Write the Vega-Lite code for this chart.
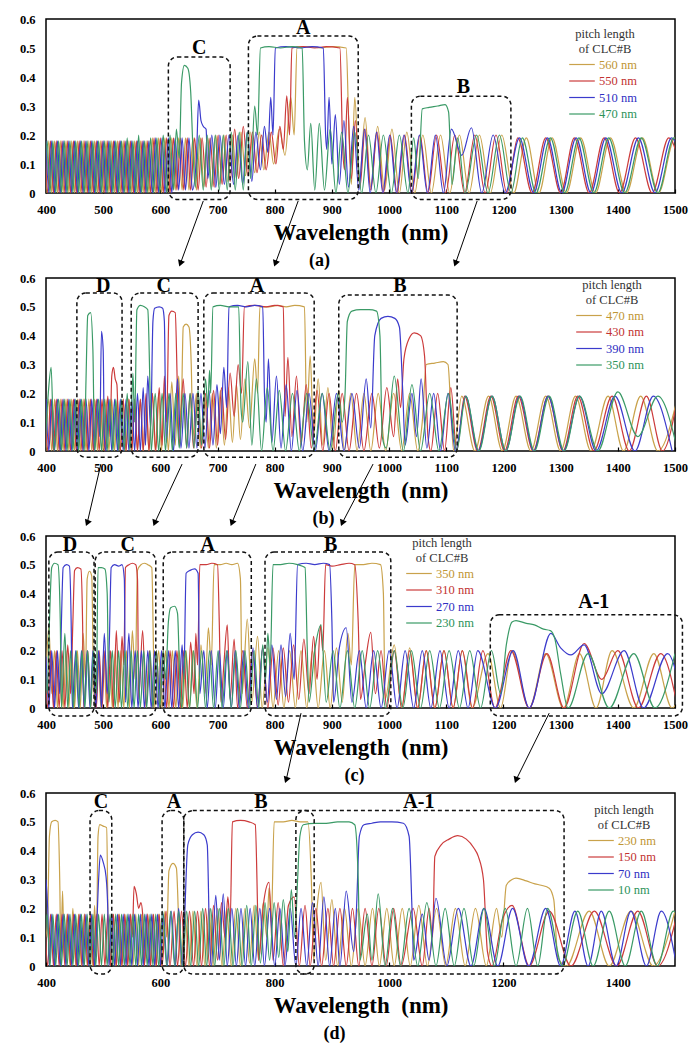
{
"$schema":"https://vega.github.io/schema/vega-lite/v6.json",
"background":"white",
"padding":{"left":18,"top":12,"right":0,"bottom":0},
"bounds":"flush",
"spacing":85,
"resolve":{"scale":{"color":"independent"},"legend":{"color":"independent"}},
"config":{
"font":"Liberation Serif",
"view":{"stroke":"black","strokeWidth":1.5},
"axis":{"grid":false,"domain":false,"labelFont":"Liberation Serif","labelFontSize":12.5,"labelFontWeight":"bold","labelColor":"black","tickColor":"black","labelFlush":false,"titleFont":"Liberation Serif","titleFontSize":23,"titleFontWeight":"bold","titleColor":"black"},
"axisX":{"tickSize":-4,"tickWidth":1.2,"labelPadding":14,"titlePadding":6},
"axisY":{"ticks":false,"labelPadding":11},
"line":{"strokeWidth":1.2,"interpolate":"monotone"},
"title":{"orient":"bottom","anchor":"middle","frame":"group","font":"Liberation Serif","fontSize":18,"fontWeight":"bold","color":"black","offset":7},
"legend":{"symbolSize":256,"symbolStrokeWidth":1.5,"labelFont":"Liberation Serif","labelFontSize":12.5,"labelOffset":8,"titleFont":"Liberation Serif","titleFontSize":12.5,"titleFontWeight":"normal","titleColor":"#333333","titleLineHeight":15,"titlePadding":0,"titleAnchor":"middle","rowPadding":0.5,"padding":0}
},
"datasets":{
"a1":[{"x":400,"y":0},{"x":405,"y":0.18},{"x":410,"y":0},{"x":415,"y":0.18},{"x":420,"y":0},{"x":425,"y":0.18},{"x":430,"y":0},{"x":435,"y":0.18},{"x":440,"y":0},{"x":445,"y":0.18},{"x":450,"y":0},{"x":455,"y":0.18},{"x":460,"y":0},{"x":465,"y":0.18},{"x":470,"y":0},{"x":475,"y":0.18},{"x":480,"y":0},{"x":485,"y":0.18},{"x":490,"y":0},{"x":495,"y":0.18},{"x":500,"y":0},{"x":505,"y":0.18},{"x":510,"y":0},{"x":515,"y":0.18},{"x":520,"y":0},{"x":525,"y":0.18},{"x":530,"y":0},{"x":535,"y":0.18},{"x":540,"y":0},{"x":545,"y":0.18},{"x":550,"y":0},{"x":555,"y":0.18},{"x":560,"y":0},{"x":565,"y":0.18},{"x":570,"y":0},{"x":575,"y":0.18},{"x":580,"y":0},{"x":586,"y":0.19},{"x":591,"y":0},{"x":597,"y":0.19},{"x":602,"y":0},{"x":608,"y":0.19},{"x":614,"y":0},{"x":620,"y":0.19},{"x":626,"y":0.01},{"x":632,"y":0.19},{"x":638,"y":0.01},{"x":644,"y":0.19},{"x":650,"y":0.01},{"x":657,"y":0.19},{"x":663,"y":0.01},{"x":670,"y":0.19},{"x":676,"y":0.02},{"x":683,"y":0.19},{"x":690,"y":0.02},{"x":697,"y":0.2},{"x":704,"y":0.03},{"x":711,"y":0.2},{"x":718,"y":0.04},{"x":726,"y":0.2},{"x":733,"y":0.05},{"x":741,"y":0.21},{"x":749,"y":0.06},{"x":757,"y":0.21},{"x":765,"y":0.07},{"x":773,"y":0.21},{"x":781,"y":0.08},{"x":790,"y":0.21},{"x":798,"y":0.1},{"x":808,"y":0.22},{"x":818,"y":0.13},{"x":828,"y":0.33},{"x":834,"y":0.2},{"x":839,"y":0.5},{"x":860,"y":0.505},{"x":880,"y":0.5},{"x":900,"y":0.505},{"x":925,"y":0.5},{"x":930,"y":0.2},{"x":934,"y":0.03},{"x":940,"y":0.33},{"x":948,"y":0.04},{"x":958,"y":0.26},{"x":968,"y":0.02},{"x":980,"y":0.23},{"x":992,"y":0.01},{"x":1005,"y":0.22},{"x":1018,"y":0},{"x":1031,"y":0.21},{"x":1045,"y":0},{"x":1059,"y":0.2},{"x":1074,"y":0},{"x":1090,"y":0.2},{"x":1106,"y":0},{"x":1123,"y":0.2},{"x":1140,"y":0},{"x":1158,"y":0.2},{"x":1177,"y":0},{"x":1197,"y":0.2},{"x":1218,"y":0},{"x":1240,"y":0.19},{"x":1262,"y":0},{"x":1285,"y":0.19},{"x":1310,"y":0},{"x":1335,"y":0.19},{"x":1361,"y":0},{"x":1387,"y":0.19},{"x":1415,"y":0},{"x":1443,"y":0.19},{"x":1471,"y":0},{"x":1500,"y":0.19},{"x":1530,"y":0}],
"a2":[{"x":398,"y":0.18},{"x":403,"y":0},{"x":408,"y":0.18},{"x":413,"y":0},{"x":418,"y":0.18},{"x":423,"y":0},{"x":428,"y":0.18},{"x":433,"y":0},{"x":438,"y":0.18},{"x":443,"y":0},{"x":448,"y":0.18},{"x":453,"y":0},{"x":458,"y":0.18},{"x":463,"y":0},{"x":468,"y":0.18},{"x":473,"y":0},{"x":478,"y":0.18},{"x":483,"y":0},{"x":488,"y":0.18},{"x":493,"y":0},{"x":498,"y":0.18},{"x":503,"y":0},{"x":508,"y":0.18},{"x":513,"y":0},{"x":518,"y":0.18},{"x":523,"y":0},{"x":528,"y":0.18},{"x":533,"y":0},{"x":538,"y":0.18},{"x":543,"y":0},{"x":548,"y":0.18},{"x":553,"y":0},{"x":558,"y":0.18},{"x":563,"y":0},{"x":568,"y":0.18},{"x":573,"y":0},{"x":578,"y":0.18},{"x":583,"y":0},{"x":589,"y":0.19},{"x":594,"y":0},{"x":600,"y":0.19},{"x":605,"y":0},{"x":611,"y":0.19},{"x":617,"y":0},{"x":623,"y":0.19},{"x":629,"y":0.01},{"x":635,"y":0.19},{"x":641,"y":0.01},{"x":647,"y":0.19},{"x":653,"y":0.01},{"x":660,"y":0.19},{"x":666,"y":0.01},{"x":673,"y":0.19},{"x":680,"y":0.02},{"x":687,"y":0.19},{"x":694,"y":0.02},{"x":701,"y":0.2},{"x":708,"y":0.03},{"x":715,"y":0.2},{"x":722,"y":0.04},{"x":730,"y":0.22},{"x":737,"y":0.05},{"x":745,"y":0.23},{"x":753,"y":0.06},{"x":761,"y":0.21},{"x":769,"y":0.07},{"x":777,"y":0.2},{"x":785,"y":0.08},{"x":794,"y":0.21},{"x":802,"y":0.1},{"x":809,"y":0.23},{"x":815,"y":0.15},{"x":821,"y":0.335},{"x":826,"y":0.2},{"x":830,"y":0.5},{"x":850,"y":0.505},{"x":870,"y":0.5},{"x":890,"y":0.505},{"x":914,"y":0.5},{"x":919,"y":0.15},{"x":922,"y":0.08},{"x":927,"y":0.33},{"x":934,"y":0.05},{"x":941,"y":0.25},{"x":949,"y":0.02},{"x":958,"y":0.22},{"x":968,"y":0.01},{"x":979,"y":0.21},{"x":990,"y":0},{"x":1002,"y":0.2},{"x":1014,"y":0},{"x":1027,"y":0.2},{"x":1040,"y":0},{"x":1054,"y":0.2},{"x":1068,"y":0},{"x":1083,"y":0.2},{"x":1099,"y":0},{"x":1115,"y":0.2},{"x":1132,"y":0},{"x":1150,"y":0.2},{"x":1168,"y":0},{"x":1187,"y":0.2},{"x":1206,"y":0},{"x":1225,"y":0.19},{"x":1250,"y":0},{"x":1274,"y":0.19},{"x":1300,"y":0},{"x":1324,"y":0.19},{"x":1350,"y":0},{"x":1376,"y":0.19},{"x":1403,"y":0},{"x":1431,"y":0.19},{"x":1460,"y":0},{"x":1489,"y":0.19},{"x":1518,"y":0}],
"a3":[{"x":400,"y":0.18},{"x":405,"y":0},{"x":410,"y":0.18},{"x":415,"y":0},{"x":420,"y":0.18},{"x":425,"y":0},{"x":430,"y":0.18},{"x":435,"y":0},{"x":440,"y":0.18},{"x":445,"y":0},{"x":450,"y":0.18},{"x":455,"y":0},{"x":460,"y":0.18},{"x":465,"y":0},{"x":470,"y":0.18},{"x":475,"y":0},{"x":480,"y":0.18},{"x":485,"y":0},{"x":490,"y":0.18},{"x":495,"y":0},{"x":500,"y":0.18},{"x":505,"y":0},{"x":510,"y":0.18},{"x":515,"y":0},{"x":520,"y":0.18},{"x":525,"y":0},{"x":530,"y":0.18},{"x":535,"y":0},{"x":540,"y":0.18},{"x":545,"y":0},{"x":550,"y":0.18},{"x":555,"y":0},{"x":560,"y":0.18},{"x":565,"y":0},{"x":570,"y":0.18},{"x":575,"y":0},{"x":580,"y":0.18},{"x":586,"y":0},{"x":592,"y":0.19},{"x":597,"y":0},{"x":603,"y":0.19},{"x":608,"y":0},{"x":614,"y":0.19},{"x":620,"y":0},{"x":626,"y":0.19},{"x":632,"y":0.01},{"x":638,"y":0.19},{"x":644,"y":0.01},{"x":650,"y":0.19},{"x":656,"y":0.01},{"x":663,"y":0.12},{"x":667,"y":0.32},{"x":671,"y":0.25},{"x":675,"y":0.23},{"x":680,"y":0.22},{"x":683,"y":0.05},{"x":690,"y":0.2},{"x":697,"y":0.02},{"x":704,"y":0.2},{"x":712,"y":0.03},{"x":720,"y":0.2},{"x":728,"y":0.03},{"x":736,"y":0.2},{"x":744,"y":0.03},{"x":752,"y":0.21},{"x":760,"y":0.04},{"x":767,"y":0.21},{"x":775,"y":0.08},{"x":782,"y":0.23},{"x":788,"y":0.14},{"x":793,"y":0.33},{"x":797,"y":0.2},{"x":801,"y":0.5},{"x":820,"y":0.505},{"x":845,"y":0.5},{"x":865,"y":0.505},{"x":885,"y":0.5},{"x":889,"y":0.2},{"x":891,"y":0.15},{"x":895,"y":0.33},{"x":900,"y":0.1},{"x":906,"y":0.27},{"x":913,"y":0.03},{"x":921,"y":0.25},{"x":929,"y":0.02},{"x":938,"y":0.23},{"x":947,"y":0.01},{"x":957,"y":0.22},{"x":967,"y":0},{"x":978,"y":0.21},{"x":989,"y":0},{"x":1001,"y":0.2},{"x":1013,"y":0},{"x":1026,"y":0.2},{"x":1039,"y":0},{"x":1053,"y":0.2},{"x":1067,"y":0},{"x":1081,"y":0.2},{"x":1095,"y":0},{"x":1109,"y":0.22},{"x":1127,"y":0.13},{"x":1144,"y":0.225},{"x":1162,"y":0},{"x":1182,"y":0.2},{"x":1203,"y":0},{"x":1228,"y":0.19},{"x":1253,"y":0},{"x":1277,"y":0.19},{"x":1302,"y":0},{"x":1327,"y":0.19},{"x":1353,"y":0},{"x":1379,"y":0.19},{"x":1407,"y":0},{"x":1436,"y":0.19},{"x":1465,"y":0},{"x":1494,"y":0.19},{"x":1523,"y":0}],
"a4":[{"x":397,"y":0},{"x":402,"y":0.18},{"x":407,"y":0},{"x":412,"y":0.18},{"x":417,"y":0},{"x":422,"y":0.18},{"x":427,"y":0},{"x":432,"y":0.18},{"x":437,"y":0},{"x":442,"y":0.18},{"x":447,"y":0},{"x":452,"y":0.18},{"x":457,"y":0},{"x":462,"y":0.18},{"x":467,"y":0},{"x":472,"y":0.18},{"x":477,"y":0},{"x":482,"y":0.18},{"x":487,"y":0},{"x":492,"y":0.18},{"x":497,"y":0},{"x":502,"y":0.18},{"x":507,"y":0},{"x":512,"y":0.18},{"x":517,"y":0},{"x":522,"y":0.18},{"x":527,"y":0},{"x":532,"y":0.18},{"x":537,"y":0},{"x":542,"y":0.19},{"x":547,"y":0},{"x":552,"y":0.18},{"x":557,"y":0},{"x":562,"y":0.2},{"x":567,"y":0},{"x":572,"y":0.18},{"x":577,"y":0},{"x":583,"y":0.19},{"x":588,"y":0},{"x":594,"y":0.19},{"x":599,"y":0},{"x":605,"y":0.2},{"x":611,"y":0},{"x":617,"y":0.2},{"x":623,"y":0.01},{"x":628,"y":0.22},{"x":633,"y":0.12},{"x":637,"y":0.38},{"x":642,"y":0.44},{"x":648,"y":0.43},{"x":653,"y":0.35},{"x":657,"y":0.15},{"x":661,"y":0.02},{"x":668,"y":0.2},{"x":675,"y":0.01},{"x":682,"y":0.2},{"x":689,"y":0.01},{"x":696,"y":0.2},{"x":703,"y":0.01},{"x":710,"y":0.2},{"x":717,"y":0.01},{"x":724,"y":0.21},{"x":731,"y":0.01},{"x":738,"y":0.21},{"x":745,"y":0.01},{"x":752,"y":0.21},{"x":758,"y":0.05},{"x":765,"y":0.3},{"x":770,"y":0.2},{"x":775,"y":0.5},{"x":790,"y":0.505},{"x":810,"y":0.5},{"x":830,"y":0.505},{"x":848,"y":0.5},{"x":852,"y":0.18},{"x":857,"y":0.08},{"x":863,"y":0.24},{"x":870,"y":0.01},{"x":878,"y":0.24},{"x":887,"y":0.01},{"x":897,"y":0.22},{"x":907,"y":0},{"x":917,"y":0.21},{"x":928,"y":0},{"x":940,"y":0.21},{"x":952,"y":0},{"x":964,"y":0.2},{"x":977,"y":0},{"x":990,"y":0.2},{"x":1004,"y":0},{"x":1018,"y":0.2},{"x":1033,"y":0},{"x":1043,"y":0.19},{"x":1051,"y":0.05},{"x":1058,"y":0.29},{"x":1070,"y":0.295},{"x":1085,"y":0.3},{"x":1098,"y":0.305},{"x":1104,"y":0.28},{"x":1110,"y":0.03},{"x":1120,"y":0.19},{"x":1133,"y":0},{"x":1153,"y":0.2},{"x":1173,"y":0},{"x":1193,"y":0.2},{"x":1213,"y":0},{"x":1233,"y":0.19},{"x":1257,"y":0},{"x":1282,"y":0.19},{"x":1307,"y":0},{"x":1332,"y":0.19},{"x":1358,"y":0},{"x":1384,"y":0.19},{"x":1412,"y":0},{"x":1441,"y":0.19},{"x":1470,"y":0},{"x":1498,"y":0.19},{"x":1527,"y":0}],
"b1":[{"x":400,"y":0},{"x":405,"y":0.18},{"x":410,"y":0},{"x":415,"y":0.18},{"x":420,"y":0},{"x":425,"y":0.18},{"x":430,"y":0},{"x":435,"y":0.18},{"x":440,"y":0},{"x":445,"y":0.18},{"x":450,"y":0},{"x":455,"y":0.18},{"x":460,"y":0},{"x":465,"y":0.18},{"x":470,"y":0},{"x":475,"y":0.18},{"x":480,"y":0},{"x":485,"y":0.18},{"x":490,"y":0},{"x":495,"y":0.18},{"x":500,"y":0},{"x":505,"y":0.18},{"x":510,"y":0},{"x":515,"y":0.18},{"x":520,"y":0},{"x":525,"y":0.18},{"x":530,"y":0},{"x":535,"y":0.18},{"x":540,"y":0},{"x":545,"y":0.18},{"x":550,"y":0},{"x":555,"y":0.18},{"x":560,"y":0},{"x":565,"y":0.18},{"x":570,"y":0},{"x":575,"y":0.18},{"x":580,"y":0},{"x":586,"y":0.2},{"x":591,"y":0},{"x":597,"y":0.2},{"x":602,"y":0},{"x":608,"y":0.22},{"x":614,"y":0},{"x":620,"y":0.24},{"x":626,"y":0.02},{"x":632,"y":0.26},{"x":636,"y":0.1},{"x":640,"y":0.43},{"x":645,"y":0.44},{"x":650,"y":0.43},{"x":654,"y":0.3},{"x":657,"y":0.05},{"x":663,"y":0.2},{"x":670,"y":0.01},{"x":677,"y":0.2},{"x":684,"y":0.01},{"x":691,"y":0.2},{"x":698,"y":0.01},{"x":705,"y":0.21},{"x":712,"y":0.02},{"x":719,"y":0.22},{"x":726,"y":0.03},{"x":733,"y":0.23},{"x":740,"y":0.04},{"x":748,"y":0.25},{"x":756,"y":0.08},{"x":765,"y":0.32},{"x":770,"y":0.2},{"x":774,"y":0.5},{"x":790,"y":0.5},{"x":805,"y":0.505},{"x":820,"y":0.5},{"x":835,"y":0.505},{"x":852,"y":0.5},{"x":856,"y":0.1},{"x":862,"y":0.33},{"x":868,"y":0.05},{"x":876,"y":0.25},{"x":884,"y":0.02},{"x":893,"y":0.22},{"x":902,"y":0.01},{"x":912,"y":0.21},{"x":922,"y":0},{"x":933,"y":0.2},{"x":944,"y":0},{"x":956,"y":0.2},{"x":968,"y":0},{"x":981,"y":0.2},{"x":994,"y":0},{"x":1008,"y":0.2},{"x":1022,"y":0},{"x":1036,"y":0.2},{"x":1050,"y":0},{"x":1058,"y":0.1},{"x":1065,"y":0.3},{"x":1080,"y":0.305},{"x":1095,"y":0.31},{"x":1103,"y":0.3},{"x":1109,"y":0.1},{"x":1113,"y":0},{"x":1127,"y":0.19},{"x":1150,"y":0},{"x":1174,"y":0.19},{"x":1198,"y":0},{"x":1222,"y":0.19},{"x":1248,"y":0},{"x":1274,"y":0.19},{"x":1300,"y":0},{"x":1326,"y":0.19},{"x":1353,"y":0},{"x":1383,"y":0.19},{"x":1410,"y":0},{"x":1440,"y":0.19},{"x":1470,"y":0},{"x":1505,"y":0.19}],
"b2":[{"x":398,"y":0.18},{"x":403,"y":0},{"x":408,"y":0.18},{"x":413,"y":0},{"x":418,"y":0.18},{"x":423,"y":0},{"x":428,"y":0.18},{"x":433,"y":0},{"x":438,"y":0.18},{"x":443,"y":0},{"x":448,"y":0.18},{"x":453,"y":0},{"x":458,"y":0.18},{"x":463,"y":0},{"x":468,"y":0.18},{"x":473,"y":0},{"x":478,"y":0.18},{"x":483,"y":0},{"x":488,"y":0.18},{"x":493,"y":0},{"x":498,"y":0.18},{"x":503,"y":0},{"x":508,"y":0.19},{"x":512,"y":0.05},{"x":515,"y":0.26},{"x":518,"y":0.29},{"x":521,"y":0.25},{"x":524,"y":0.23},{"x":527,"y":0.05},{"x":530,"y":0},{"x":535,"y":0.18},{"x":540,"y":0},{"x":545,"y":0.18},{"x":550,"y":0},{"x":555,"y":0.18},{"x":560,"y":0},{"x":565,"y":0.18},{"x":570,"y":0},{"x":575,"y":0.2},{"x":580,"y":0},{"x":586,"y":0.2},{"x":592,"y":0},{"x":598,"y":0.22},{"x":603,"y":0.02},{"x":607,"y":0.26},{"x":611,"y":0.1},{"x":615,"y":0.47},{"x":620,"y":0.485},{"x":626,"y":0.48},{"x":630,"y":0.2},{"x":633,"y":0.02},{"x":640,"y":0.25},{"x":646,"y":0.01},{"x":652,"y":0.2},{"x":658,"y":0.01},{"x":665,"y":0.2},{"x":672,"y":0.01},{"x":679,"y":0.2},{"x":686,"y":0.01},{"x":693,"y":0.21},{"x":700,"y":0.02},{"x":707,"y":0.22},{"x":714,"y":0.04},{"x":722,"y":0.27},{"x":729,"y":0.12},{"x":736,"y":0.3},{"x":742,"y":0.2},{"x":747,"y":0.5},{"x":765,"y":0.505},{"x":785,"y":0.5},{"x":800,"y":0.505},{"x":815,"y":0.5},{"x":818,"y":0.12},{"x":823,"y":0.325},{"x":830,"y":0.05},{"x":838,"y":0.26},{"x":846,"y":0.02},{"x":855,"y":0.23},{"x":864,"y":0.01},{"x":874,"y":0.21},{"x":884,"y":0},{"x":895,"y":0.2},{"x":906,"y":0},{"x":918,"y":0.2},{"x":930,"y":0},{"x":943,"y":0.2},{"x":956,"y":0},{"x":970,"y":0.2},{"x":983,"y":0.01},{"x":996,"y":0.22},{"x":1008,"y":0.05},{"x":1015,"y":0.25},{"x":1020,"y":0.15},{"x":1026,"y":0.32},{"x":1035,"y":0.39},{"x":1044,"y":0.41},{"x":1055,"y":0.4},{"x":1062,"y":0.33},{"x":1068,"y":0.05},{"x":1073,"y":0},{"x":1085,"y":0.2},{"x":1097,"y":0},{"x":1108,"y":0.22},{"x":1118,"y":0},{"x":1132,"y":0.19},{"x":1155,"y":0},{"x":1178,"y":0.19},{"x":1202,"y":0},{"x":1226,"y":0.19},{"x":1252,"y":0},{"x":1278,"y":0.19},{"x":1304,"y":0},{"x":1330,"y":0.19},{"x":1358,"y":0},{"x":1390,"y":0.19},{"x":1420,"y":0},{"x":1450,"y":0.19},{"x":1478,"y":0},{"x":1505,"y":0.19}],
"b3":[{"x":400,"y":0.18},{"x":405,"y":0},{"x":410,"y":0.18},{"x":415,"y":0},{"x":420,"y":0.18},{"x":425,"y":0},{"x":430,"y":0.18},{"x":435,"y":0},{"x":440,"y":0.18},{"x":445,"y":0},{"x":450,"y":0.18},{"x":455,"y":0},{"x":460,"y":0.18},{"x":465,"y":0},{"x":470,"y":0.18},{"x":475,"y":0},{"x":480,"y":0.18},{"x":485,"y":0},{"x":490,"y":0.18},{"x":494,"y":0.05},{"x":497,"y":0.415},{"x":500,"y":0.35},{"x":502,"y":0.05},{"x":505,"y":0},{"x":510,"y":0.18},{"x":515,"y":0},{"x":520,"y":0.18},{"x":525,"y":0},{"x":530,"y":0.18},{"x":535,"y":0},{"x":540,"y":0.18},{"x":545,"y":0},{"x":550,"y":0.18},{"x":555,"y":0},{"x":560,"y":0.2},{"x":565,"y":0},{"x":570,"y":0.22},{"x":574,"y":0.02},{"x":578,"y":0.26},{"x":583,"y":0.08},{"x":587,"y":0.45},{"x":590,"y":0.495},{"x":598,"y":0.5},{"x":604,"y":0.495},{"x":607,"y":0.45},{"x":610,"y":0.03},{"x":617,"y":0.2},{"x":623,"y":0},{"x":630,"y":0.25},{"x":636,"y":0.01},{"x":643,"y":0.2},{"x":650,"y":0.01},{"x":657,"y":0.2},{"x":664,"y":0.01},{"x":671,"y":0.2},{"x":678,"y":0.01},{"x":685,"y":0.21},{"x":692,"y":0.02},{"x":699,"y":0.23},{"x":705,"y":0.06},{"x":711,"y":0.29},{"x":716,"y":0.15},{"x":720,"y":0.5},{"x":735,"y":0.505},{"x":750,"y":0.5},{"x":765,"y":0.505},{"x":779,"y":0.5},{"x":782,"y":0.2},{"x":785,"y":0.1},{"x":789,"y":0.32},{"x":795,"y":0.03},{"x":803,"y":0.26},{"x":811,"y":0.01},{"x":820,"y":0.23},{"x":829,"y":0},{"x":839,"y":0.21},{"x":849,"y":0},{"x":860,"y":0.2},{"x":871,"y":0},{"x":883,"y":0.2},{"x":895,"y":0},{"x":908,"y":0.2},{"x":921,"y":0},{"x":935,"y":0.2},{"x":948,"y":0.01},{"x":960,"y":0.25},{"x":968,"y":0.08},{"x":975,"y":0.4},{"x":986,"y":0.46},{"x":998,"y":0.467},{"x":1010,"y":0.46},{"x":1018,"y":0.43},{"x":1024,"y":0.2},{"x":1028,"y":0.02},{"x":1040,"y":0.2},{"x":1048,"y":0.05},{"x":1056,"y":0.25},{"x":1066,"y":0.01},{"x":1078,"y":0.2},{"x":1090,"y":0},{"x":1103,"y":0.2},{"x":1116,"y":0},{"x":1134,"y":0.19},{"x":1156,"y":0},{"x":1180,"y":0.19},{"x":1204,"y":0},{"x":1228,"y":0.19},{"x":1253,"y":0},{"x":1278,"y":0.19},{"x":1305,"y":0},{"x":1333,"y":0.19},{"x":1362,"y":0},{"x":1395,"y":0.19},{"x":1430,"y":0},{"x":1462,"y":0.19},{"x":1495,"y":0}],
"b4":[{"x":398,"y":0},{"x":404,"y":0.2},{"x":409,"y":0.29},{"x":414,"y":0},{"x":422,"y":0.18},{"x":427,"y":0},{"x":432,"y":0.18},{"x":437,"y":0},{"x":442,"y":0.18},{"x":447,"y":0},{"x":452,"y":0.18},{"x":457,"y":0},{"x":462,"y":0.18},{"x":467,"y":0},{"x":470,"y":0.25},{"x":473,"y":0.47},{"x":478,"y":0.48},{"x":482,"y":0.35},{"x":485,"y":0},{"x":492,"y":0.18},{"x":497,"y":0},{"x":502,"y":0.18},{"x":507,"y":0},{"x":512,"y":0.18},{"x":517,"y":0},{"x":522,"y":0.18},{"x":527,"y":0},{"x":532,"y":0.18},{"x":537,"y":0},{"x":542,"y":0.2},{"x":547,"y":0},{"x":552,"y":0.27},{"x":555,"y":0.1},{"x":559,"y":0.49},{"x":565,"y":0.505},{"x":572,"y":0.5},{"x":578,"y":0.49},{"x":582,"y":0.2},{"x":584,"y":0},{"x":591,"y":0.2},{"x":597,"y":0},{"x":603,"y":0.2},{"x":609,"y":0},{"x":615,"y":0.2},{"x":621,"y":0},{"x":627,"y":0.2},{"x":633,"y":0.01},{"x":640,"y":0.2},{"x":646,"y":0.01},{"x":652,"y":0.2},{"x":659,"y":0.01},{"x":666,"y":0.21},{"x":672,"y":0.02},{"x":679,"y":0.25},{"x":683,"y":0.15},{"x":686,"y":0.28},{"x":688,"y":0.2},{"x":692,"y":0.5},{"x":705,"y":0.505},{"x":720,"y":0.5},{"x":737,"y":0.5},{"x":741,"y":0.15},{"x":744,"y":0.1},{"x":753,"y":0.31},{"x":760,"y":0.02},{"x":768,"y":0.25},{"x":777,"y":0},{"x":787,"y":0.22},{"x":797,"y":0},{"x":808,"y":0.21},{"x":819,"y":0},{"x":831,"y":0.2},{"x":843,"y":0},{"x":856,"y":0.2},{"x":869,"y":0},{"x":883,"y":0.2},{"x":897,"y":0},{"x":911,"y":0.2},{"x":918,"y":0.1},{"x":923,"y":0.2},{"x":927,"y":0.45},{"x":935,"y":0.485},{"x":950,"y":0.49},{"x":965,"y":0.49},{"x":978,"y":0.485},{"x":984,"y":0.4},{"x":988,"y":0.05},{"x":995,"y":0.01},{"x":1009,"y":0.26},{"x":1025,"y":0},{"x":1040,"y":0.23},{"x":1055,"y":0},{"x":1071,"y":0.2},{"x":1087,"y":0},{"x":1104,"y":0.2},{"x":1118,"y":0},{"x":1134,"y":0.19},{"x":1157,"y":0},{"x":1180,"y":0.19},{"x":1204,"y":0},{"x":1229,"y":0.19},{"x":1254,"y":0},{"x":1280,"y":0.19},{"x":1306,"y":0},{"x":1333,"y":0.19},{"x":1365,"y":0},{"x":1400,"y":0.205},{"x":1435,"y":0.05},{"x":1470,"y":0.19},{"x":1505,"y":0}],
"c1":[{"x":400,"y":0.1},{"x":405,"y":0.285},{"x":410,"y":0.05},{"x":415,"y":0.2},{"x":420,"y":0},{"x":425,"y":0.2},{"x":430,"y":0},{"x":435,"y":0.2},{"x":440,"y":0},{"x":445,"y":0.2},{"x":450,"y":0},{"x":455,"y":0.2},{"x":460,"y":0},{"x":465,"y":0.26},{"x":469,"y":0.1},{"x":472,"y":0.45},{"x":476,"y":0.477},{"x":480,"y":0.46},{"x":483,"y":0.1},{"x":486,"y":0},{"x":491,"y":0.2},{"x":496,"y":0},{"x":501,"y":0.2},{"x":506,"y":0},{"x":511,"y":0.2},{"x":516,"y":0},{"x":521,"y":0.2},{"x":526,"y":0},{"x":531,"y":0.2},{"x":536,"y":0},{"x":541,"y":0.2},{"x":546,"y":0},{"x":551,"y":0.27},{"x":556,"y":0.1},{"x":560,"y":0.48},{"x":566,"y":0.5},{"x":572,"y":0.505},{"x":578,"y":0.5},{"x":585,"y":0.49},{"x":588,"y":0.2},{"x":590,"y":0},{"x":597,"y":0.2},{"x":603,"y":0},{"x":609,"y":0.2},{"x":615,"y":0},{"x":621,"y":0.2},{"x":627,"y":0},{"x":633,"y":0.2},{"x":639,"y":0},{"x":645,"y":0.2},{"x":651,"y":0},{"x":657,"y":0.2},{"x":664,"y":0},{"x":671,"y":0.22},{"x":678,"y":0.05},{"x":684,"y":0.28},{"x":689,"y":0.15},{"x":694,"y":0.5},{"x":705,"y":0.5},{"x":715,"y":0.505},{"x":725,"y":0.5},{"x":735,"y":0.505},{"x":740,"y":0.45},{"x":743,"y":0.05},{"x":752,"y":0.31},{"x":760,"y":0.02},{"x":770,"y":0.25},{"x":778,"y":0},{"x":788,"y":0.21},{"x":797,"y":0},{"x":807,"y":0.2},{"x":816,"y":0},{"x":826,"y":0.2},{"x":836,"y":0},{"x":846,"y":0.2},{"x":856,"y":0},{"x":866,"y":0.2},{"x":876,"y":0},{"x":887,"y":0.2},{"x":897,"y":0},{"x":908,"y":0.21},{"x":918,"y":0.02},{"x":928,"y":0.26},{"x":934,"y":0.15},{"x":940,"y":0.5},{"x":955,"y":0.5},{"x":970,"y":0.505},{"x":985,"y":0.5},{"x":990,"y":0.4},{"x":993,"y":0.03},{"x":1009,"y":0.22},{"x":1022,"y":0},{"x":1036,"y":0.21},{"x":1050,"y":0},{"x":1065,"y":0.2},{"x":1080,"y":0},{"x":1096,"y":0.2},{"x":1112,"y":0},{"x":1128,"y":0.2},{"x":1145,"y":0},{"x":1173,"y":0.19},{"x":1195,"y":0},{"x":1215,"y":0.2},{"x":1245,"y":0},{"x":1274,"y":0.19},{"x":1305,"y":0},{"x":1333,"y":0.19},{"x":1362,"y":0},{"x":1390,"y":0.2},{"x":1428,"y":0},{"x":1463,"y":0.19},{"x":1495,"y":0},{"x":1520,"y":0.15}],
"c2":[{"x":398,"y":0.18},{"x":403,"y":0},{"x":408,"y":0.2},{"x":413,"y":0},{"x":418,"y":0.2},{"x":423,"y":0},{"x":428,"y":0.2},{"x":433,"y":0},{"x":438,"y":0.22},{"x":443,"y":0.05},{"x":447,"y":0.3},{"x":450,"y":0.48},{"x":455,"y":0.49},{"x":461,"y":0.485},{"x":464,"y":0.3},{"x":466,"y":0},{"x":473,"y":0.2},{"x":478,"y":0},{"x":483,"y":0.2},{"x":488,"y":0},{"x":493,"y":0.2},{"x":498,"y":0},{"x":503,"y":0.2},{"x":508,"y":0},{"x":513,"y":0.2},{"x":518,"y":0},{"x":523,"y":0.27},{"x":528,"y":0.02},{"x":533,"y":0.25},{"x":536,"y":0.15},{"x":539,"y":0.49},{"x":545,"y":0.5},{"x":551,"y":0.505},{"x":557,"y":0.5},{"x":560,"y":0.45},{"x":562,"y":0.03},{"x":569,"y":0.27},{"x":575,"y":0},{"x":581,"y":0.2},{"x":587,"y":0},{"x":593,"y":0.2},{"x":599,"y":0},{"x":605,"y":0.2},{"x":611,"y":0},{"x":617,"y":0.2},{"x":623,"y":0},{"x":629,"y":0.2},{"x":635,"y":0},{"x":641,"y":0.2},{"x":647,"y":0},{"x":653,"y":0.23},{"x":659,"y":0.05},{"x":662,"y":0.26},{"x":665,"y":0.15},{"x":669,"y":0.5},{"x":680,"y":0.5},{"x":690,"y":0.505},{"x":700,"y":0.5},{"x":703,"y":0.3},{"x":706,"y":0.02},{"x":711,"y":0.15},{"x":717,"y":0.29},{"x":722,"y":0.03},{"x":729,"y":0.24},{"x":735,"y":0},{"x":744,"y":0.2},{"x":752,"y":0},{"x":761,"y":0.2},{"x":770,"y":0},{"x":779,"y":0.21},{"x":788,"y":0},{"x":797,"y":0.21},{"x":806,"y":0.01},{"x":815,"y":0.21},{"x":824,"y":0.02},{"x":833,"y":0.22},{"x":842,"y":0.03},{"x":851,"y":0.24},{"x":860,"y":0.05},{"x":868,"y":0.25},{"x":874,"y":0.1},{"x":880,"y":0.29},{"x":884,"y":0.2},{"x":889,"y":0.5},{"x":900,"y":0.495},{"x":915,"y":0.5},{"x":930,"y":0.505},{"x":940,"y":0.5},{"x":946,"y":0.3},{"x":950,"y":0.03},{"x":958,"y":0.15},{"x":968,"y":0.264},{"x":976,"y":0.05},{"x":986,"y":0.2},{"x":996,"y":0},{"x":1009,"y":0.2},{"x":1022,"y":0},{"x":1036,"y":0.2},{"x":1050,"y":0},{"x":1065,"y":0.2},{"x":1080,"y":0},{"x":1096,"y":0.2},{"x":1112,"y":0},{"x":1128,"y":0.2},{"x":1146,"y":0},{"x":1164,"y":0.2},{"x":1185,"y":0},{"x":1213,"y":0.2},{"x":1245,"y":0},{"x":1276,"y":0.19},{"x":1306,"y":0},{"x":1341,"y":0.225},{"x":1372,"y":0.1},{"x":1400,"y":0.2},{"x":1436,"y":0},{"x":1475,"y":0.19},{"x":1505,"y":0}],
"c3":[{"x":400,"y":0.18},{"x":405,"y":0},{"x":410,"y":0.2},{"x":415,"y":0},{"x":420,"y":0.2},{"x":424,"y":0.05},{"x":427,"y":0.3},{"x":430,"y":0.49},{"x":436,"y":0.5},{"x":441,"y":0.495},{"x":444,"y":0.3},{"x":446,"y":0},{"x":452,"y":0.2},{"x":457,"y":0},{"x":462,"y":0.2},{"x":467,"y":0},{"x":472,"y":0.2},{"x":477,"y":0},{"x":482,"y":0.2},{"x":487,"y":0},{"x":492,"y":0.2},{"x":497,"y":0},{"x":502,"y":0.26},{"x":507,"y":0.05},{"x":511,"y":0.25},{"x":514,"y":0.49},{"x":520,"y":0.5},{"x":527,"y":0.495},{"x":533,"y":0.5},{"x":537,"y":0.45},{"x":539,"y":0.02},{"x":545,"y":0.26},{"x":550,"y":0},{"x":556,"y":0.2},{"x":561,"y":0},{"x":567,"y":0.2},{"x":572,"y":0},{"x":578,"y":0.2},{"x":584,"y":0},{"x":590,"y":0.2},{"x":596,"y":0},{"x":602,"y":0.2},{"x":608,"y":0},{"x":614,"y":0.2},{"x":620,"y":0},{"x":626,"y":0.2},{"x":632,"y":0},{"x":638,"y":0.22},{"x":641,"y":0.1},{"x":645,"y":0.47},{"x":652,"y":0.48},{"x":660,"y":0.485},{"x":666,"y":0.47},{"x":669,"y":0.05},{"x":676,"y":0.2},{"x":682,"y":0},{"x":689,"y":0.2},{"x":696,"y":0},{"x":703,"y":0.2},{"x":710,"y":0},{"x":717,"y":0.2},{"x":724,"y":0},{"x":731,"y":0.2},{"x":738,"y":0},{"x":746,"y":0.2},{"x":754,"y":0},{"x":762,"y":0.21},{"x":770,"y":0},{"x":779,"y":0.21},{"x":787,"y":0.02},{"x":795,"y":0.22},{"x":803,"y":0.03},{"x":811,"y":0.22},{"x":819,"y":0.04},{"x":827,"y":0.26},{"x":834,"y":0.1},{"x":840,"y":0.5},{"x":855,"y":0.505},{"x":870,"y":0.5},{"x":885,"y":0.505},{"x":896,"y":0.5},{"x":900,"y":0.3},{"x":903,"y":0.02},{"x":913,"y":0.21},{"x":925,"y":0.28},{"x":935,"y":0.02},{"x":948,"y":0.2},{"x":960,"y":0},{"x":973,"y":0.2},{"x":986,"y":0},{"x":1000,"y":0.2},{"x":1014,"y":0},{"x":1028,"y":0.2},{"x":1043,"y":0},{"x":1058,"y":0.2},{"x":1073,"y":0},{"x":1089,"y":0.2},{"x":1105,"y":0},{"x":1121,"y":0.2},{"x":1138,"y":0},{"x":1155,"y":0.2},{"x":1186,"y":0},{"x":1217,"y":0.2},{"x":1245,"y":0},{"x":1283,"y":0.26},{"x":1300,"y":0.21},{"x":1318,"y":0.185},{"x":1341,"y":0.22},{"x":1372,"y":0.05},{"x":1411,"y":0.2},{"x":1445,"y":0},{"x":1487,"y":0.19},{"x":1515,"y":0}],
"c4":[{"x":398,"y":0.2},{"x":402,"y":0.05},{"x":406,"y":0.3},{"x":410,"y":0.49},{"x":415,"y":0.505},{"x":421,"y":0.5},{"x":425,"y":0.3},{"x":427,"y":0},{"x":433,"y":0.26},{"x":438,"y":0},{"x":443,"y":0.2},{"x":448,"y":0},{"x":453,"y":0.2},{"x":458,"y":0},{"x":463,"y":0.2},{"x":468,"y":0},{"x":473,"y":0.2},{"x":478,"y":0},{"x":483,"y":0.2},{"x":488,"y":0.05},{"x":491,"y":0.49},{"x":497,"y":0.49},{"x":503,"y":0.485},{"x":507,"y":0.4},{"x":510,"y":0.02},{"x":516,"y":0.2},{"x":521,"y":0},{"x":527,"y":0.2},{"x":532,"y":0},{"x":538,"y":0.2},{"x":543,"y":0},{"x":549,"y":0.2},{"x":554,"y":0},{"x":560,"y":0.2},{"x":565,"y":0},{"x":571,"y":0.2},{"x":576,"y":0},{"x":582,"y":0.2},{"x":587,"y":0},{"x":593,"y":0.2},{"x":599,"y":0},{"x":605,"y":0.2},{"x":609,"y":0.1},{"x":614,"y":0.3},{"x":618,"y":0.35},{"x":625,"y":0.355},{"x":630,"y":0.33},{"x":634,"y":0.1},{"x":637,"y":0},{"x":644,"y":0.2},{"x":651,"y":0},{"x":658,"y":0.2},{"x":665,"y":0},{"x":672,"y":0.2},{"x":679,"y":0},{"x":686,"y":0.2},{"x":693,"y":0},{"x":701,"y":0.2},{"x":708,"y":0},{"x":716,"y":0.2},{"x":724,"y":0},{"x":732,"y":0.2},{"x":740,"y":0},{"x":748,"y":0.2},{"x":756,"y":0},{"x":764,"y":0.2},{"x":772,"y":0},{"x":779,"y":0.22},{"x":784,"y":0.1},{"x":788,"y":0.26},{"x":792,"y":0.15},{"x":797,"y":0.5},{"x":810,"y":0.5},{"x":825,"y":0.505},{"x":840,"y":0.5},{"x":853,"y":0.49},{"x":857,"y":0.2},{"x":860,"y":0.02},{"x":870,"y":0.2},{"x":881,"y":0.29},{"x":890,"y":0.02},{"x":902,"y":0.2},{"x":914,"y":0},{"x":927,"y":0.2},{"x":940,"y":0},{"x":953,"y":0.2},{"x":966,"y":0},{"x":980,"y":0.2},{"x":994,"y":0},{"x":1009,"y":0.2},{"x":1024,"y":0},{"x":1039,"y":0.2},{"x":1055,"y":0},{"x":1071,"y":0.2},{"x":1088,"y":0},{"x":1105,"y":0.2},{"x":1123,"y":0},{"x":1141,"y":0.2},{"x":1160,"y":0},{"x":1179,"y":0.2},{"x":1195,"y":0.05},{"x":1205,"y":0.22},{"x":1215,"y":0.3},{"x":1222,"y":0.305},{"x":1240,"y":0.295},{"x":1254,"y":0.29},{"x":1270,"y":0.275},{"x":1282,"y":0.27},{"x":1290,"y":0.24},{"x":1300,"y":0.12},{"x":1313,"y":0},{"x":1348,"y":0.19},{"x":1385,"y":0},{"x":1428,"y":0.19},{"x":1465,"y":0},{"x":1500,"y":0.19}],
"d1":[{"x":398,"y":0.2},{"x":402,"y":0.1},{"x":406,"y":0.45},{"x":410,"y":0.5},{"x":416,"y":0.505},{"x":421,"y":0.5},{"x":424,"y":0.3},{"x":426,"y":0.05},{"x":429,"y":0.26},{"x":432,"y":0.02},{"x":437,"y":0.18},{"x":442,"y":0},{"x":447,"y":0.2},{"x":452,"y":0},{"x":457,"y":0.18},{"x":462,"y":0},{"x":467,"y":0.18},{"x":472,"y":0},{"x":477,"y":0.18},{"x":481,"y":0},{"x":485,"y":0.21},{"x":488,"y":0.05},{"x":491,"y":0.45},{"x":494,"y":0.49},{"x":500,"y":0.485},{"x":506,"y":0.48},{"x":509,"y":0.1},{"x":511,"y":0},{"x":517,"y":0.18},{"x":522,"y":0},{"x":527,"y":0.18},{"x":532,"y":0},{"x":537,"y":0.18},{"x":542,"y":0},{"x":547,"y":0.18},{"x":552,"y":0},{"x":557,"y":0.18},{"x":562,"y":0},{"x":567,"y":0.18},{"x":572,"y":0},{"x":577,"y":0.18},{"x":582,"y":0},{"x":587,"y":0.18},{"x":592,"y":0},{"x":597,"y":0.18},{"x":602,"y":0},{"x":608,"y":0.19},{"x":611,"y":0.1},{"x":615,"y":0.33},{"x":622,"y":0.356},{"x":628,"y":0.34},{"x":633,"y":0.1},{"x":636,"y":0},{"x":643,"y":0.19},{"x":650,"y":0},{"x":657,"y":0.19},{"x":664,"y":0},{"x":671,"y":0.19},{"x":678,"y":0},{"x":685,"y":0.2},{"x":692,"y":0},{"x":700,"y":0.2},{"x":708,"y":0},{"x":716,"y":0.2},{"x":724,"y":0},{"x":732,"y":0.2},{"x":740,"y":0},{"x":748,"y":0.2},{"x":756,"y":0.01},{"x":764,"y":0.21},{"x":772,"y":0.02},{"x":780,"y":0.22},{"x":786,"y":0.1},{"x":790,"y":0.27},{"x":794,"y":0.15},{"x":799,"y":0.5},{"x":815,"y":0.5},{"x":830,"y":0.505},{"x":845,"y":0.5},{"x":858,"y":0.5},{"x":864,"y":0.3},{"x":868,"y":0.02},{"x":874,"y":0.2},{"x":881,"y":0.29},{"x":889,"y":0.02},{"x":900,"y":0.23},{"x":910,"y":0},{"x":922,"y":0.2},{"x":934,"y":0},{"x":946,"y":0.2},{"x":958,"y":0},{"x":971,"y":0.2},{"x":983,"y":0},{"x":996,"y":0.2},{"x":1009,"y":0},{"x":1023,"y":0.2},{"x":1037,"y":0},{"x":1052,"y":0.21},{"x":1067,"y":0},{"x":1083,"y":0.2},{"x":1099,"y":0},{"x":1116,"y":0.2},{"x":1133,"y":0},{"x":1151,"y":0.2},{"x":1170,"y":0},{"x":1188,"y":0.2},{"x":1197,"y":0.1},{"x":1205,"y":0.28},{"x":1215,"y":0.3},{"x":1222,"y":0.305},{"x":1240,"y":0.295},{"x":1255,"y":0.285},{"x":1266,"y":0.28},{"x":1280,"y":0.27},{"x":1288,"y":0.23},{"x":1295,"y":0.03},{"x":1310,"y":0},{"x":1350,"y":0.19},{"x":1385,"y":0},{"x":1423,"y":0.19},{"x":1462,"y":0},{"x":1500,"y":0.19}],
"d2":[{"x":398,"y":0.18},{"x":403,"y":0},{"x":408,"y":0.18},{"x":413,"y":0},{"x":418,"y":0.18},{"x":423,"y":0},{"x":428,"y":0.18},{"x":433,"y":0},{"x":438,"y":0.18},{"x":443,"y":0},{"x":448,"y":0.18},{"x":453,"y":0},{"x":458,"y":0.18},{"x":463,"y":0},{"x":468,"y":0.18},{"x":473,"y":0},{"x":478,"y":0.18},{"x":483,"y":0},{"x":488,"y":0.18},{"x":493,"y":0},{"x":498,"y":0.18},{"x":503,"y":0},{"x":508,"y":0.18},{"x":513,"y":0},{"x":518,"y":0.18},{"x":523,"y":0},{"x":528,"y":0.18},{"x":533,"y":0},{"x":538,"y":0.18},{"x":543,"y":0},{"x":548,"y":0.18},{"x":551,"y":0.1},{"x":554,"y":0.276},{"x":558,"y":0.25},{"x":562,"y":0.2},{"x":566,"y":0.22},{"x":569,"y":0.18},{"x":572,"y":0},{"x":578,"y":0.18},{"x":583,"y":0},{"x":588,"y":0.18},{"x":593,"y":0},{"x":598,"y":0.18},{"x":603,"y":0},{"x":610,"y":0.19},{"x":617,"y":0},{"x":624,"y":0.19},{"x":630,"y":0},{"x":637,"y":0.19},{"x":644,"y":0},{"x":651,"y":0.19},{"x":658,"y":0},{"x":665,"y":0.19},{"x":672,"y":0},{"x":679,"y":0.2},{"x":686,"y":0},{"x":693,"y":0.21},{"x":700,"y":0.02},{"x":707,"y":0.22},{"x":713,"y":0.1},{"x":718,"y":0.24},{"x":722,"y":0.15},{"x":726,"y":0.5},{"x":740,"y":0.505},{"x":755,"y":0.5},{"x":766,"y":0.49},{"x":770,"y":0.2},{"x":772,"y":0.02},{"x":780,"y":0.21},{"x":790,"y":0.29},{"x":797,"y":0.02},{"x":806,"y":0.22},{"x":815,"y":0},{"x":824,"y":0.21},{"x":834,"y":0.24},{"x":843,"y":0},{"x":853,"y":0.21},{"x":862,"y":0},{"x":872,"y":0.2},{"x":882,"y":0},{"x":893,"y":0.2},{"x":903,"y":0},{"x":914,"y":0.2},{"x":925,"y":0},{"x":936,"y":0.2},{"x":947,"y":0},{"x":958,"y":0.2},{"x":970,"y":0},{"x":982,"y":0.2},{"x":995,"y":0},{"x":1008,"y":0.2},{"x":1021,"y":0},{"x":1042,"y":0.2},{"x":1058,"y":0},{"x":1070,"y":0.2},{"x":1076,"y":0.1},{"x":1080,"y":0.38},{"x":1091,"y":0.42},{"x":1105,"y":0.44},{"x":1120,"y":0.452},{"x":1135,"y":0.44},{"x":1148,"y":0.41},{"x":1156,"y":0.38},{"x":1165,"y":0.3},{"x":1172,"y":0.05},{"x":1180,"y":0},{"x":1198,"y":0.16},{"x":1215,"y":0.21},{"x":1245,"y":0},{"x":1280,"y":0.19},{"x":1318,"y":0},{"x":1359,"y":0.19},{"x":1398,"y":0},{"x":1435,"y":0.19},{"x":1470,"y":0},{"x":1505,"y":0.19}],
"d3":[{"x":400,"y":0.3},{"x":403,"y":0.2},{"x":406,"y":0},{"x":410,"y":0.18},{"x":415,"y":0},{"x":420,"y":0.18},{"x":425,"y":0},{"x":430,"y":0.18},{"x":435,"y":0},{"x":440,"y":0.18},{"x":445,"y":0},{"x":450,"y":0.18},{"x":455,"y":0},{"x":460,"y":0.18},{"x":465,"y":0},{"x":470,"y":0.18},{"x":475,"y":0},{"x":480,"y":0.18},{"x":485,"y":0},{"x":488,"y":0.1},{"x":492,"y":0.3},{"x":495,"y":0.385},{"x":500,"y":0.36},{"x":505,"y":0.31},{"x":508,"y":0.2},{"x":510,"y":0},{"x":515,"y":0.18},{"x":520,"y":0},{"x":525,"y":0.18},{"x":530,"y":0},{"x":535,"y":0.18},{"x":540,"y":0},{"x":545,"y":0.18},{"x":550,"y":0},{"x":555,"y":0.18},{"x":560,"y":0},{"x":565,"y":0.18},{"x":570,"y":0},{"x":575,"y":0.18},{"x":580,"y":0},{"x":585,"y":0.18},{"x":590,"y":0},{"x":595,"y":0.18},{"x":600,"y":0},{"x":605,"y":0.18},{"x":612,"y":0},{"x":619,"y":0.19},{"x":626,"y":0},{"x":632,"y":0.2},{"x":638,"y":0},{"x":642,"y":0.15},{"x":648,"y":0.42},{"x":656,"y":0.455},{"x":666,"y":0.464},{"x":676,"y":0.455},{"x":682,"y":0.42},{"x":686,"y":0.1},{"x":689,"y":0},{"x":697,"y":0.245},{"x":703,"y":0.02},{"x":710,"y":0.25},{"x":717,"y":0},{"x":725,"y":0.2},{"x":733,"y":0},{"x":741,"y":0.2},{"x":749,"y":0},{"x":757,"y":0.2},{"x":765,"y":0},{"x":774,"y":0.2},{"x":782,"y":0},{"x":791,"y":0.2},{"x":800,"y":0},{"x":809,"y":0.2},{"x":818,"y":0},{"x":827,"y":0.2},{"x":837,"y":0},{"x":846,"y":0.2},{"x":856,"y":0},{"x":866,"y":0.22},{"x":876,"y":0},{"x":886,"y":0.24},{"x":896,"y":0},{"x":906,"y":0.2},{"x":914,"y":0},{"x":925,"y":0.26},{"x":938,"y":0.05},{"x":943,"y":0.2},{"x":948,"y":0.45},{"x":956,"y":0.49},{"x":970,"y":0.495},{"x":985,"y":0.5},{"x":1005,"y":0.5},{"x":1025,"y":0.495},{"x":1035,"y":0.45},{"x":1040,"y":0.2},{"x":1043,"y":0.02},{"x":1058,"y":0.18},{"x":1070,"y":0.02},{"x":1082,"y":0.235},{"x":1101,"y":0},{"x":1121,"y":0.2},{"x":1143,"y":0},{"x":1166,"y":0.2},{"x":1190,"y":0},{"x":1216,"y":0.2},{"x":1244,"y":0},{"x":1274,"y":0.2},{"x":1300,"y":0},{"x":1325,"y":0.19},{"x":1348,"y":0},{"x":1371,"y":0.19},{"x":1397,"y":0},{"x":1423,"y":0.19},{"x":1450,"y":0},{"x":1476,"y":0.19},{"x":1503,"y":0}],
"d4":[{"x":397,"y":0},{"x":402,"y":0.18},{"x":407,"y":0},{"x":412,"y":0.18},{"x":417,"y":0},{"x":422,"y":0.18},{"x":427,"y":0},{"x":432,"y":0.18},{"x":437,"y":0},{"x":442,"y":0.18},{"x":447,"y":0},{"x":452,"y":0.18},{"x":457,"y":0},{"x":462,"y":0.18},{"x":467,"y":0},{"x":472,"y":0.18},{"x":477,"y":0},{"x":482,"y":0.18},{"x":487,"y":0},{"x":492,"y":0.18},{"x":497,"y":0},{"x":502,"y":0.18},{"x":507,"y":0},{"x":512,"y":0.18},{"x":517,"y":0},{"x":522,"y":0.18},{"x":527,"y":0},{"x":532,"y":0.18},{"x":537,"y":0},{"x":542,"y":0.18},{"x":547,"y":0},{"x":552,"y":0.18},{"x":557,"y":0},{"x":562,"y":0.18},{"x":567,"y":0},{"x":572,"y":0.18},{"x":577,"y":0},{"x":582,"y":0.18},{"x":587,"y":0},{"x":592,"y":0.18},{"x":597,"y":0},{"x":604,"y":0.19},{"x":611,"y":0},{"x":618,"y":0.19},{"x":625,"y":0},{"x":632,"y":0.19},{"x":639,"y":0},{"x":646,"y":0.19},{"x":653,"y":0},{"x":660,"y":0.19},{"x":667,"y":0},{"x":674,"y":0.2},{"x":681,"y":0},{"x":688,"y":0.2},{"x":695,"y":0},{"x":703,"y":0.2},{"x":711,"y":0},{"x":719,"y":0.2},{"x":727,"y":0},{"x":735,"y":0.2},{"x":743,"y":0},{"x":751,"y":0.21},{"x":759,"y":0},{"x":767,"y":0.21},{"x":775,"y":0.01},{"x":783,"y":0.22},{"x":791,"y":0.02},{"x":799,"y":0.22},{"x":807,"y":0.03},{"x":815,"y":0.23},{"x":823,"y":0.05},{"x":829,"y":0.265},{"x":835,"y":0.1},{"x":840,"y":0.3},{"x":844,"y":0.45},{"x":850,"y":0.49},{"x":870,"y":0.495},{"x":890,"y":0.495},{"x":910,"y":0.5},{"x":930,"y":0.5},{"x":940,"y":0.49},{"x":946,"y":0.3},{"x":949,"y":0.02},{"x":962,"y":0.18},{"x":970,"y":0.02},{"x":981,"y":0.25},{"x":993,"y":0},{"x":1006,"y":0.2},{"x":1020,"y":0},{"x":1035,"y":0.2},{"x":1050,"y":0},{"x":1066,"y":0.22},{"x":1082,"y":0},{"x":1098,"y":0.2},{"x":1114,"y":0},{"x":1131,"y":0.2},{"x":1148,"y":0},{"x":1166,"y":0.2},{"x":1184,"y":0},{"x":1203,"y":0.2},{"x":1222,"y":0},{"x":1242,"y":0.2},{"x":1260,"y":0},{"x":1277,"y":0.2},{"x":1303,"y":0},{"x":1330,"y":0.19},{"x":1357,"y":0},{"x":1385,"y":0.19},{"x":1413,"y":0},{"x":1441,"y":0.19},{"x":1469,"y":0},{"x":1497,"y":0.19},{"x":1525,"y":0}],
"aBox":[{"x":614,"x2":722,"y":0.469,"y2":-0.022},{"x":754,"x2":946,"y":0.541,"y2":-0.022},{"x":1039,"x2":1213,"y":0.334,"y2":-0.022}],
"aLab":[{"x":668,"y":0.5,"t":"C"},{"x":850,"y":0.569,"t":"A"},{"x":1130,"y":0.366,"t":"B"}],
"bBox":[{"x":454,"x2":533,"y":0.548,"y2":-0.022},{"x":549,"x2":666,"y":0.548,"y2":-0.022},{"x":676,"x2":869,"y":0.548,"y2":-0.022},{"x":912,"x2":1119,"y":0.541,"y2":-0.022}],
"bLab":[{"x":500,"y":0.572,"t":"D"},{"x":606,"y":0.572,"t":"C"},{"x":769,"y":0.572,"t":"A"},{"x":1019,"y":0.572,"t":"B"}],
"bArr":[{"x":675,"y":0.867,"x2":635,"y2":0.65},{"x":841,"y":0.867,"x2":801,"y2":0.65},{"x":1154,"y":0.867,"x2":1116,"y2":0.65}],
"cBox":[{"x":405,"x2":484,"y":0.544,"y2":-0.028},{"x":486,"x2":592,"y":0.544,"y2":-0.028},{"x":605,"x2":759,"y":0.544,"y2":-0.028},{"x":783,"x2":1003,"y":0.544,"y2":-0.028},{"x":1177,"x2":1513,"y":0.325,"y2":-0.028}],
"cLab":[{"x":442,"y":0.57,"t":"D"},{"x":543,"y":0.57,"t":"C"},{"x":683,"y":0.57,"t":"A"},{"x":898,"y":0.57,"t":"B"},{"x":1358,"y":0.37,"t":"A-1"}],
"cArr":[{"x":496,"y":0.851,"x2":472,"y2":0.645},{"x":638,"y":0.851,"x2":590,"y2":0.645},{"x":767,"y":0.851,"x2":725,"y2":0.645},{"x":972,"y":0.851,"x2":918,"y2":0.645}],
"dBox":[{"x":477,"x2":515,"y":0.539,"y2":-0.028},{"x":603,"x2":641,"y":0.539,"y2":-0.028},{"x":641,"x2":869,"y":0.539,"y2":-0.028},{"x":837,"x2":1306,"y":0.539,"y2":-0.028}],
"dLab":[{"x":496,"y":0.57,"t":"C"},{"x":624,"y":0.57,"t":"A"},{"x":776,"y":0.57,"t":"B"},{"x":1052,"y":0.57,"t":"A-1"}],
"dArr":[{"x":846,"y":0.877,"x2":820,"y2":0.645},{"x":1280,"y":0.877,"x2":1222,"y2":0.645}]
},
"vconcat":[
{"width":629,"height":174,
"title":{"text":"(a)","dx":-41},
"encoding":{"x":{"field":"x","type":"quantitative","scale":{"domain":[400,1500]},"axis":{"values":[400,500,600,700,800,900,1000,1100,1200,1300,1400,1500],"format":"d","title":"Wavelength\u00a0 (nm)"}},
"y":{"field":"y","type":"quantitative","scale":{"domain":[0,0.6]},"axis":{"values":[0,0.1,0.2,0.3,0.4,0.5,0.6],"labelExpr":"datum.value == 0 ? '0' : format(datum.value, '.1f')","title":null}}},
"layer":[
{"data":{"name":"a1"},"mark":{"type":"line","clip":true},"encoding":{"color":{"datum":"560 nm","type":"nominal","scale":{"domain":["560 nm","550 nm","510 nm","470 nm"],"range":["#C9A24B","#CC3B3B","#3B3BCC","#3A9A66"]},"legend":{"title":["pitch length","of CLC#B"],"orient":"none","legendX":527,"legendY":9,"symbolType":"M-1.6,0H1.6","labelFont":"Liberation Serif","titleFont":"Liberation Serif","labelColor":{"expr":"datum.value === '560 nm' ? '#BF9634' : datum.value === '550 nm' ? '#C23232' : datum.value === '510 nm' ? '#2E2EC2' : '#2C935A'"},"encode":{"labels":{"fill":{"condition":[{"test":"datum.value === '560 nm'","value":"#BF9634"},{"test":"datum.value === '550 nm'","value":"#C23232"},{"test":"datum.value === '510 nm'","value":"#2E2EC2"}],"value":"#2C935A"}}}}}}},
{"data":{"name":"a2"},"mark":{"type":"line","clip":true},"encoding":{"color":{"datum":"550 nm","type":"nominal","scale":{"domain":["560 nm","550 nm","510 nm","470 nm"],"range":["#C9A24B","#CC3B3B","#3B3BCC","#3A9A66"]}}}},
{"data":{"name":"a3"},"mark":{"type":"line","clip":true},"encoding":{"color":{"datum":"510 nm","type":"nominal","scale":{"domain":["560 nm","550 nm","510 nm","470 nm"],"range":["#C9A24B","#CC3B3B","#3B3BCC","#3A9A66"]}}}},
{"data":{"name":"a4"},"mark":{"type":"line","clip":true},"encoding":{"color":{"datum":"470 nm","type":"nominal","scale":{"domain":["560 nm","550 nm","510 nm","470 nm"],"range":["#C9A24B","#CC3B3B","#3B3BCC","#3A9A66"]}}}},
{"data":{"name":"aBox"},"mark":{"type":"rect","filled":false,"stroke":"#111111","strokeWidth":1.5,"strokeDash":[4,3],"cornerRadius":9},"encoding":{"x2":{"field":"x2"},"y2":{"field":"y2"}}},
{"data":{"name":"aLab"},"mark":{"type":"text","font":"Liberation Serif","fontSize":20,"fontWeight":"bold","color":"black","baseline":"middle","align":"center"},"encoding":{"text":{"field":"t"}}}
]},
{"width":629,"height":173,
"title":{"text":"(b)","dx":-37},
"encoding":{"x":{"field":"x","type":"quantitative","scale":{"domain":[400,1500]},"axis":{"values":[400,500,600,700,800,900,1000,1100,1200,1300,1400,1500],"format":"d","title":"Wavelength\u00a0 (nm)"}},
"y":{"field":"y","type":"quantitative","scale":{"domain":[0,0.6]},"axis":{"values":[0,0.1,0.2,0.3,0.4,0.5,0.6],"labelExpr":"datum.value == 0 ? '0' : format(datum.value, '.1f')","title":null}}},
"layer":[
{"data":{"name":"b1"},"mark":{"type":"line","clip":true},"encoding":{"color":{"datum":"470 nm","type":"nominal","scale":{"domain":["470 nm","430 nm","390 nm","350 nm"],"range":["#C9A24B","#CC3B3B","#3B3BCC","#3A9A66"]},"legend":{"title":["pitch length","of CLC#B"],"orient":"none","legendX":534,"legendY":1,"symbolType":"M-1.6,0H1.6","labelFont":"Liberation Serif","titleFont":"Liberation Serif","labelColor":{"expr":"datum.value === '470 nm' ? '#BF9634' : datum.value === '430 nm' ? '#C23232' : datum.value === '390 nm' ? '#2E2EC2' : '#2C935A'"},"encode":{"labels":{"fill":{"condition":[{"test":"datum.value === '470 nm'","value":"#BF9634"},{"test":"datum.value === '430 nm'","value":"#C23232"},{"test":"datum.value === '390 nm'","value":"#2E2EC2"}],"value":"#2C935A"}}}}}}},
{"data":{"name":"b2"},"mark":{"type":"line","clip":true},"encoding":{"color":{"datum":"430 nm","type":"nominal","scale":{"domain":["470 nm","430 nm","390 nm","350 nm"],"range":["#C9A24B","#CC3B3B","#3B3BCC","#3A9A66"]}}}},
{"data":{"name":"b3"},"mark":{"type":"line","clip":true},"encoding":{"color":{"datum":"390 nm","type":"nominal","scale":{"domain":["470 nm","430 nm","390 nm","350 nm"],"range":["#C9A24B","#CC3B3B","#3B3BCC","#3A9A66"]}}}},
{"data":{"name":"b4"},"mark":{"type":"line","clip":true},"encoding":{"color":{"datum":"350 nm","type":"nominal","scale":{"domain":["470 nm","430 nm","390 nm","350 nm"],"range":["#C9A24B","#CC3B3B","#3B3BCC","#3A9A66"]}}}},
{"data":{"name":"bBox"},"mark":{"type":"rect","filled":false,"stroke":"#111111","strokeWidth":1.5,"strokeDash":[4,3],"cornerRadius":9},"encoding":{"x2":{"field":"x2"},"y2":{"field":"y2"}}},
{"data":{"name":"bLab"},"mark":{"type":"text","font":"Liberation Serif","fontSize":20,"fontWeight":"bold","color":"black","baseline":"middle","align":"center"},"encoding":{"text":{"field":"t"}}},
{"data":{"name":"bArr"},"mark":{"type":"rule","color":"black","strokeWidth":1},"encoding":{"x2":{"field":"x2"},"y2":{"field":"y2"}}},
{"data":{"name":"bArr"},"mark":{"type":"point","shape":"triangle-up","filled":true,"color":"black","opacity":1,"size":55,"angle":200},"encoding":{"x":{"field":"x2","type":"quantitative"},"y":{"field":"y2","type":"quantitative"}}}
]},
{"width":629,"height":172,
"title":{"text":"(c)","dx":-6},
"encoding":{"x":{"field":"x","type":"quantitative","scale":{"domain":[400,1500]},"axis":{"values":[400,500,600,700,800,900,1000,1100,1200,1300,1400,1500],"format":"d","title":"Wavelength\u00a0 (nm)"}},
"y":{"field":"y","type":"quantitative","scale":{"domain":[0,0.6]},"axis":{"values":[0,0.1,0.2,0.3,0.4,0.5,0.6],"labelExpr":"datum.value == 0 ? '0' : format(datum.value, '.1f')","title":null}}},
"layer":[
{"data":{"name":"c1"},"mark":{"type":"line","clip":true},"encoding":{"color":{"datum":"350 nm","type":"nominal","scale":{"domain":["350 nm","310 nm","270 nm","230 nm"],"range":["#C9A24B","#CC3B3B","#3B3BCC","#3A9A66"]},"legend":{"title":["pitch length","of CLC#B"],"orient":"none","legendX":364,"legendY":1,"symbolType":"M-1.6,0H1.6","labelFont":"Liberation Serif","titleFont":"Liberation Serif","labelColor":{"expr":"datum.value === '350 nm' ? '#BF9634' : datum.value === '310 nm' ? '#C23232' : datum.value === '270 nm' ? '#2E2EC2' : '#2C935A'"},"encode":{"labels":{"fill":{"condition":[{"test":"datum.value === '350 nm'","value":"#BF9634"},{"test":"datum.value === '310 nm'","value":"#C23232"},{"test":"datum.value === '270 nm'","value":"#2E2EC2"}],"value":"#2C935A"}}}}}}},
{"data":{"name":"c2"},"mark":{"type":"line","clip":true},"encoding":{"color":{"datum":"310 nm","type":"nominal","scale":{"domain":["350 nm","310 nm","270 nm","230 nm"],"range":["#C9A24B","#CC3B3B","#3B3BCC","#3A9A66"]}}}},
{"data":{"name":"c3"},"mark":{"type":"line","clip":true},"encoding":{"color":{"datum":"270 nm","type":"nominal","scale":{"domain":["350 nm","310 nm","270 nm","230 nm"],"range":["#C9A24B","#CC3B3B","#3B3BCC","#3A9A66"]}}}},
{"data":{"name":"c4"},"mark":{"type":"line","clip":true},"encoding":{"color":{"datum":"230 nm","type":"nominal","scale":{"domain":["350 nm","310 nm","270 nm","230 nm"],"range":["#C9A24B","#CC3B3B","#3B3BCC","#3A9A66"]}}}},
{"data":{"name":"cBox"},"mark":{"type":"rect","filled":false,"stroke":"#111111","strokeWidth":1.5,"strokeDash":[4,3],"cornerRadius":9},"encoding":{"x2":{"field":"x2"},"y2":{"field":"y2"}}},
{"data":{"name":"cLab"},"mark":{"type":"text","font":"Liberation Serif","fontSize":20,"fontWeight":"bold","color":"black","baseline":"middle","align":"center"},"encoding":{"text":{"field":"t"}}},
{"data":{"name":"cArr"},"mark":{"type":"rule","color":"black","strokeWidth":1},"encoding":{"x2":{"field":"x2"},"y2":{"field":"y2"}}},
{"data":{"name":"cArr"},"mark":{"type":"point","shape":"triangle-up","filled":true,"color":"black","opacity":1,"size":55,"angle":202},"encoding":{"x":{"field":"x2","type":"quantitative"},"y":{"field":"y2","type":"quantitative"}}}
]},
{"width":629,"height":173,
"title":{"text":"(d)","dx":-26},
"encoding":{"x":{"field":"x","type":"quantitative","scale":{"domain":[400,1500]},"axis":{"values":[400,600,800,1000,1200,1400],"format":"d","title":"Wavelength\u00a0 (nm)"}},
"y":{"field":"y","type":"quantitative","scale":{"domain":[0,0.6]},"axis":{"values":[0,0.1,0.2,0.3,0.4,0.5,0.6],"labelExpr":"datum.value == 0 ? '0' : format(datum.value, '.1f')","title":null}}},
"layer":[
{"data":{"name":"d1"},"mark":{"type":"line","clip":true},"encoding":{"color":{"datum":"230 nm","type":"nominal","scale":{"domain":["230 nm","150 nm","70 nm","10 nm"],"range":["#C9A24B","#CC3B3B","#3B3BCC","#3A9A66"]},"legend":{"title":["pitch length","of CLC#B"],"orient":"none","legendX":546,"legendY":11,"symbolType":"M-1.6,0H1.6","labelFont":"Liberation Serif","titleFont":"Liberation Serif","labelColor":{"expr":"datum.value === '230 nm' ? '#BF9634' : datum.value === '150 nm' ? '#C23232' : datum.value === '70 nm' ? '#2E2EC2' : '#2C935A'"},"encode":{"labels":{"fill":{"condition":[{"test":"datum.value === '230 nm'","value":"#BF9634"},{"test":"datum.value === '150 nm'","value":"#C23232"},{"test":"datum.value === '70 nm'","value":"#2E2EC2"}],"value":"#2C935A"}}}}}}},
{"data":{"name":"d2"},"mark":{"type":"line","clip":true},"encoding":{"color":{"datum":"150 nm","type":"nominal","scale":{"domain":["230 nm","150 nm","70 nm","10 nm"],"range":["#C9A24B","#CC3B3B","#3B3BCC","#3A9A66"]}}}},
{"data":{"name":"d3"},"mark":{"type":"line","clip":true},"encoding":{"color":{"datum":"70 nm","type":"nominal","scale":{"domain":["230 nm","150 nm","70 nm","10 nm"],"range":["#C9A24B","#CC3B3B","#3B3BCC","#3A9A66"]}}}},
{"data":{"name":"d4"},"mark":{"type":"line","clip":true},"encoding":{"color":{"datum":"10 nm","type":"nominal","scale":{"domain":["230 nm","150 nm","70 nm","10 nm"],"range":["#C9A24B","#CC3B3B","#3B3BCC","#3A9A66"]}}}},
{"data":{"name":"dBox"},"mark":{"type":"rect","filled":false,"stroke":"#111111","strokeWidth":1.5,"strokeDash":[4,3],"cornerRadius":9},"encoding":{"x2":{"field":"x2"},"y2":{"field":"y2"}}},
{"data":{"name":"dLab"},"mark":{"type":"text","font":"Liberation Serif","fontSize":20,"fontWeight":"bold","color":"black","baseline":"middle","align":"center"},"encoding":{"text":{"field":"t"}}},
{"data":{"name":"dArr"},"mark":{"type":"rule","color":"black","strokeWidth":1},"encoding":{"x2":{"field":"x2"},"y2":{"field":"y2"}}},
{"data":{"name":"dArr"},"mark":{"type":"point","shape":"triangle-up","filled":true,"color":"black","opacity":1,"size":55,"angle":200},"encoding":{"x":{"field":"x2","type":"quantitative"},"y":{"field":"y2","type":"quantitative"}}}
]}
]
}
